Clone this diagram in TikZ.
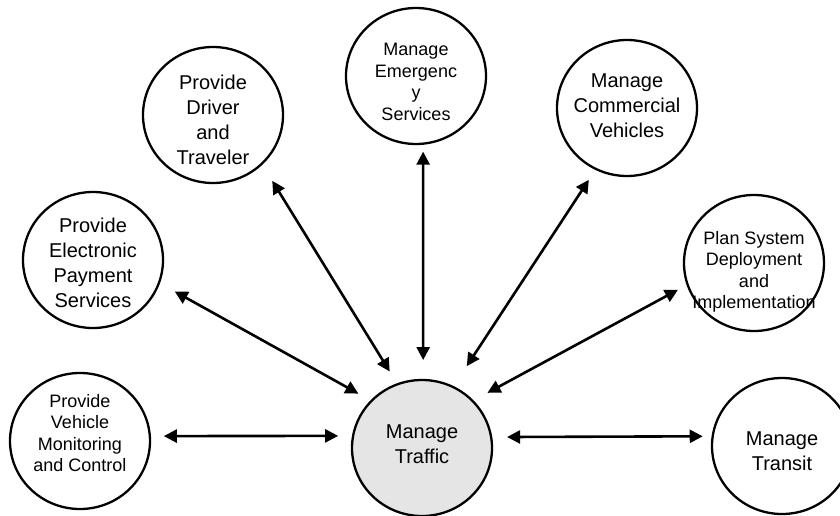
\documentclass[tikz,border=0pt]{standalone}
\usepackage{fontspec}
\setmainfont{Liberation Sans}
\usetikzlibrary{arrows.meta,shapes.geometric}

\begin{document}
\begin{tikzpicture}[x=1pt,y=-1pt,>={Triangle[length=13pt,width=13pt]},
	bubble/.style={ellipse,draw,line width=2.3pt,minimum width=140pt,minimum height=136pt,inner sep=0pt,outer sep=0pt},
	bigtext/.style={align=center,font=\fontsize{20}{25}\selectfont},
	smalltext/.style={align=center,font=\fontsize{18}{21.5}\selectfont},
	link/.style={<->,line width=2.6pt}]

	\useasboundingbox (0,0) rectangle (840,516);

	% centre and the seven outer processes
	\node[bubble,fill=black!10,label={[bigtext,yshift=4pt]center:Manage\\Traffic}] (traffic) at (422,448) {};
	\node[bubble,label={[smalltext,yshift=8pt]center:Provide\\Vehicle\\Monitoring\\and Control}] (veh) at (80,441) {};
	\node[bubble,label={[bigtext,yshift=-3pt]center:Provide\\Electronic\\Payment\\Services}] (pay) at (93,260) {};
	\node[bubble,label={[bigtext,yshift=-5pt]center:Provide\\Driver\\and\\Traveler}] (drv) at (213,115) {};
	\node[bubble,label={[smalltext,yshift=-6pt]center:Manage\\Emergenc\\y\\Services}] (emg) at (416,76) {};
	\node[bubble,label={[bigtext,yshift=2pt]center:Manage\\Commercial\\Vehicles}] (com) at (627,108) {};
	\node[bubble,label={[smalltext,yshift=-9pt]center:Plan System\\Deployment\\and\\Implementation}] (plan) at (754,263) {};
	\node[bubble,label={[bigtext,yshift=-5pt]center:Manage\\Transit}] (transit) at (782,446) {};

	% two-way flows
	\draw[link,shorten <=14pt,shorten >=15pt] (veh.4) -- (traffic.170);
	\draw[link,shorten <=18pt,shorten >=15pt] (pay.-19) -- (traffic.137);
	\draw[link,shorten <=20pt,shorten >=15pt] (drv.-45) -- (traffic.111);
	\draw[link,shorten <=8pt,shorten >=20pt] (emg.-84) -- (traffic.89);
	\draw[link,shorten <=13pt,shorten >=25pt] (com.243) -- (traffic.63);
	\draw[link,shorten <=11pt,shorten >=17pt] (plan.198) -- (traffic.43);
	\draw[link,shorten <=16pt,shorten >=10pt] (traffic.9) -- (transit.172.6);
\end{tikzpicture}
\end{document}
